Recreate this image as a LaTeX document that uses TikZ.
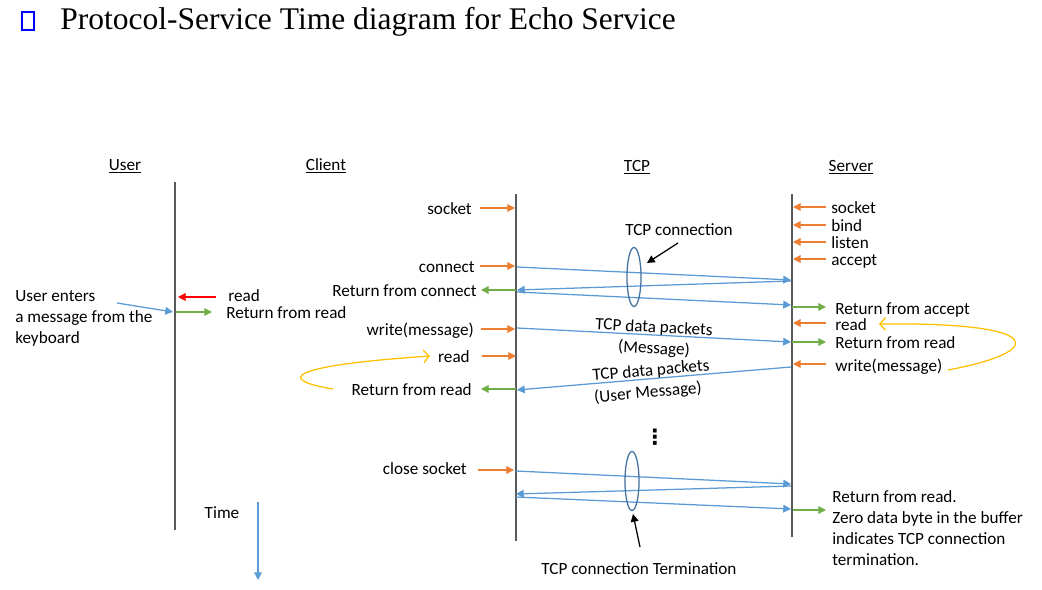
\documentclass[tikz,border=0pt]{standalone}
\usepackage{fontspec}
\setmainfont{Carlito}
\newfontfamily\titlefont{Liberation Serif}
\newfontfamily\symfont{DejaVu Sans}
\usetikzlibrary{arrows.meta,calc,positioning,shapes.geometric}
\definecolor{callcol}{RGB}{237,125,49}
\definecolor{retcol}{RGB}{112,173,71}
\definecolor{pktcol}{RGB}{91,155,213}
\definecolor{loopcol}{RGB}{255,192,0}
\definecolor{ringcol}{RGB}{65,113,156}
\definecolor{lifecol}{RGB}{90,90,90}
\tikzset{
  lbl/.style={inner sep=0pt,yshift=-2.13pt,font=\fontsize{12.2}{15}\selectfont},
  hdr/.style={lbl},
  life/.style={draw=lifecol,line width=1pt},
  call/.style={->,draw=callcol,line width=0.9pt},
  ret/.style={->,draw=retcol,line width=0.9pt},
  pkt/.style={->,draw=pktcol,line width=0.9pt},
  loopback/.style={-{Straight Barb[length=4pt,width=9pt]},draw=loopcol,line width=0.9pt},
  ring/.style={ellipse,draw=ringcol,line width=0.9pt,minimum width=10pt,minimum height=42pt,inner sep=0pt},
  pointer/.style={->,draw=black,line width=0.9pt}
}

\begin{document}
\begin{tikzpicture}[x=0.025cm,y=-0.025cm,>={Triangle[length=5.5pt,width=5.5pt]}]
\useasboundingbox (0,0) rectangle (1042,590);

% title
\node[draw=blue,line width=1.4pt,minimum width=8.5pt,minimum height=12.5pt,inner sep=0pt] (bullet) at (28,21) {};
\node[anchor=west,inner sep=0pt,font=\titlefont\fontsize{22.4}{26}\selectfont] (title) at (60,22) {Protocol-Service Time diagram for Echo Service};

% headers and life lines
\node[hdr] (huser) at (125,163) {\underline{User}};
\node[hdr] (hclient) at (326,163) {\underline{Client}};
\node[hdr] (htcp) at (637,164) {\underline{TCP}};
\node[hdr] (hserver) at (851,164) {\underline{Server}};
\coordinate (us) at (175,0);
\coordinate (cl) at (516,0);
\coordinate (sv) at (792,0);
\draw[life] (175,182) coordinate (ut) -- (175,530) coordinate (ub);
\draw[life] (516,194) coordinate (ct) -- (516,541) coordinate (cb);
\draw[life] (792,194) coordinate (st) -- (792,537) coordinate (sb);

% user
\node[lbl,anchor=north west,align=left] (uenter) at (15,287) {User enters\\a message from the\\keyboard};
\node[lbl,anchor=mid west] (uread) at (228,295) {read};
\node[lbl,anchor=mid west] (urread) at (226,312) {Return from read};
\draw[->,draw=red,line width=0.9pt] (216,297) -- (178,297);
\draw[ret] (176,312) -- (212,312);
\draw[pkt] (117,303) coordinate (ukey) -- (173,312) coordinate (uin);

% client side calls
\node[lbl,anchor=mid east] (csock) at (472,208) {socket};
\node[lbl,anchor=mid east] (cconn) at (475,266) {connect};
\node[lbl,anchor=mid east] (crconn) at (477,290) {Return from connect};
\node[lbl,anchor=mid east] (cwrite) at (474,329) {write(message)};
\node[lbl,anchor=mid east] (cread) at (470,356) {read};
\node[lbl,anchor=mid east] (crread) at (472,389) {Return from read};
\node[lbl,anchor=mid east] (cclose) at (467,468) {close socket};
\draw[call] (480,208) -- (515,208);
\draw[call] (480,266) -- (515,266);
\draw[ret] (516,290) -- (481,290);
\draw[call] (481,329) -- (515,329);
\draw[call] (482,356) -- (516,356);
\draw[ret] (516,389) -- (481,389);
\draw[call] (478,470) -- (514,470);
\draw[loopback] (333,389) .. controls (278,380) and (283,366) .. (430,356);

% server side calls
\foreach \y/\t in {207/socket,225/bind,242/listen,259/accept}{
  \node[lbl,anchor=mid west] (s\t) at (831,\y) {\t};
  \draw[call] (826,\y) -- (793,\y);
}
\node[lbl,anchor=mid west] (sracc) at (835,308) {Return from accept};
\node[lbl,anchor=mid west] (sread) at (835,324) {read};
\node[lbl,anchor=mid west] (srread) at (835,342) {Return from read};
\node[lbl,anchor=mid west] (swrite) at (835,365) {write(message)};
\draw[ret] (792,307) -- (826,307);
\draw[call] (826,323) -- (793,323);
\draw[ret] (792,342) -- (826,342);
\draw[call] (826,364) -- (793,364);
\draw[loopback] (948,370) .. controls (1045,352) and (1050,322) .. (879,324);

% connection setup
\coordinate (c1) at (517,267); \coordinate (s1) at (791,280);
\coordinate (s2) at (791,281); \coordinate (c2) at (517,290);
\coordinate (c3) at (517,292); \coordinate (s3) at (791,305);
\draw[pkt] (c1) -- (s1);
\draw[pkt] (s2) -- (c2);
\draw[pkt] (c3) -- (s3);
\node[ring] (conn) at (634,277) {};
\node[lbl] (tcpconn) at (679,227) {TCP connection};
\draw[pointer] (678,243) -- (647,263);

% data
\coordinate (c4) at (517,328); \coordinate (s4) at (791,342);
\coordinate (s5) at (791,367); \coordinate (c5) at (517,390);
\draw[pkt] (c4) -- (s4);
\draw[pkt] (s5) -- (c5);
\node[lbl,rotate=-3] (data1) at (654,325) {TCP data packets};
\node[lbl,rotate=-3] (msg1) at (654,346) {(Message)};
\node[lbl,rotate=5] (data2) at (651,368) {TCP data packets};
\node[lbl,rotate=5] (msg2) at (648,390) {(User Message)};
\node[inner sep=0pt,font=\symfont\bfseries\fontsize{15}{15}\selectfont] (dots) at (655,437) {⋮};

% termination
\coordinate (c6) at (516,471); \coordinate (s6) at (791,484);
\coordinate (s7) at (791,486); \coordinate (c7) at (516,494);
\coordinate (c8) at (516,497); \coordinate (s8) at (791,509);
\draw[pkt] (c6) -- (s6);
\draw[pkt] (s7) -- (c7);
\draw[pkt] (c8) -- (s8);
\node[ring] (term) at (632,481) {};
\node[lbl] (termtxt) at (639,566) {TCP connection Termination};
\draw[pointer] (640,547) -- (633,514);
\node[lbl,anchor=north west,align=left] (sdone) at (832,487) {Return from read.\\Zero data byte in the buffer\\indicates TCP connection\\termination.};
\draw[ret] (793,510) -- (826,510);

% time
\node[lbl] (time) at (222,510) {Time};
\draw[pkt] (258,502) coordinate (tt) -- (258,580) coordinate (tb);
\end{tikzpicture}
\end{document}
